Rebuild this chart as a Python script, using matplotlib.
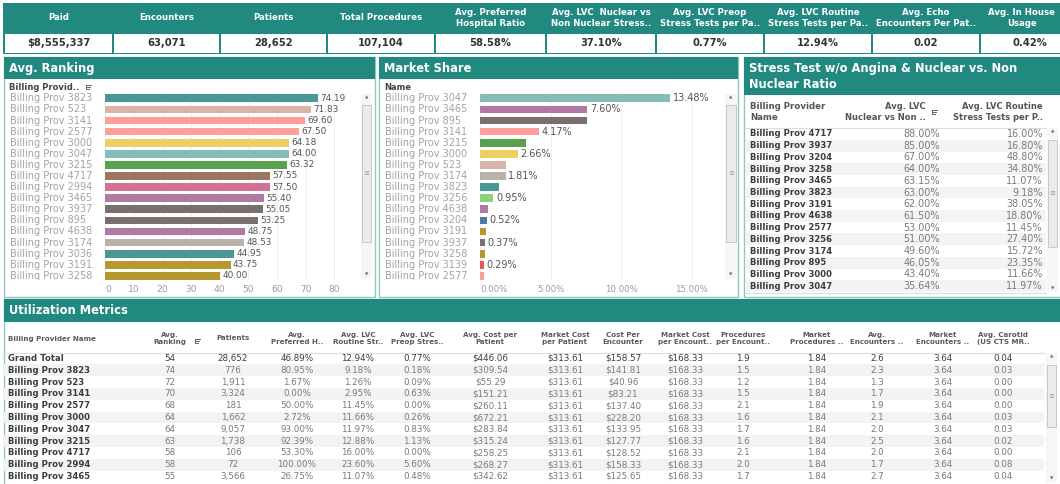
import matplotlib.pyplot as plt
from matplotlib.patches import Rectangle
from matplotlib.ticker import FixedLocator
from matplotlib.transforms import Bbox, TransformedBbox, blended_transform_factory, offset_copy

plt.rcParams['font.family'] = ['DejaVu Sans']

# ---- data ----
kpi_labels = ["Paid", "Encounters", "Patients", "Total Procedures",
              "Avg. Preferred\nHospital Ratio", "Avg. LVC  Nuclear vs\nNon Nuclear Stress..",
              "Avg. LVC Preop\nStress Tests per Pa..", "Avg. LVC Routine\nStress Tests per Pa..",
              "Avg. Echo\nEncounters Per Pat..", "Avg. In House\nUsage"]
kpi_values = ["$8,555,337", "63,071", "28,652", "107,104", "58.58%",
              "37.10%", "0.77%", "12.94%", "0.02", "0.42%"]

rank_names = ["Billing Prov 3823", "Billing Prov 523", "Billing Prov 3141", "Billing Prov 2577",
              "Billing Prov 3000", "Billing Prov 3047", "Billing Prov 3215", "Billing Prov 4717",
              "Billing Prov 2994", "Billing Prov 3465", "Billing Prov 3937", "Billing Prov 895",
              "Billing Prov 4638", "Billing Prov 3174", "Billing Prov 3036", "Billing Prov 3191",
              "Billing Prov 3258"]
rank_vals = [74.19, 71.83, 69.60, 67.50, 64.18, 64.00, 63.32, 57.55, 57.50, 55.40,
             55.05, 53.25, 48.75, 48.53, 44.95, 43.75, 40.00]
rank_colors = ['#499894', '#d7b5a6', '#ff9d9a', '#ff9d9a', '#f1ce63', '#86bcb6', '#59a14f',
               '#9d7660', '#d37295', '#b07aa1', '#79706e', '#79706e', '#b07aa1', '#bab0ac',
               '#499894', '#b6992d', '#b6992d']

share_names = ["Billing Prov 3047", "Billing Prov 3465", "Billing Prov 895", "Billing Prov 3141",
               "Billing Prov 3215", "Billing Prov 3000", "Billing Prov 523", "Billing Prov 3174",
               "Billing Prov 3823", "Billing Prov 3256", "Billing Prov 4638", "Billing Prov 3204",
               "Billing Prov 3191", "Billing Prov 3937", "Billing Prov 3258", "Billing Prov 3139",
               "Billing Prov 2577"]
share_vals = [13.48, 7.60, 7.60, 4.17, 3.25, 2.66, 1.86, 1.81, 1.36, 0.95, 0.59, 0.52,
              0.42, 0.37, 0.37, 0.29, 0.26]
share_shown = [1, 1, 0, 1, 0, 1, 0, 1, 0, 1, 0, 1, 0, 1, 0, 1, 0]
share_colors = ['#86bcb6', '#b07aa1', '#79706e', '#ff9d9a', '#59a14f', '#f1ce63', '#d7b5a6',
                '#bab0ac', '#499894', '#8cd17d', '#b07aa1', '#4e79a7', '#b6992d', '#79706e',
                '#b6992d', '#e15759', '#ff9d9a']

stress_names = ["Billing Prov 4717", "Billing Prov 3937", "Billing Prov 3204", "Billing Prov 3258",
                "Billing Prov 3465", "Billing Prov 3823", "Billing Prov 3191", "Billing Prov 4638",
                "Billing Prov 2577", "Billing Prov 3256", "Billing Prov 3174", "Billing Prov 895",
                "Billing Prov 3000", "Billing Prov 3047"]
stress_nuclear = [88.00, 85.00, 67.00, 64.00, 63.15, 63.00, 62.00, 61.50, 53.00, 51.00,
                  49.60, 46.05, 43.40, 35.64]
stress_routine = [16.00, 16.80, 48.80, 34.80, 11.07, 9.18, 38.05, 18.80, 11.45, 27.40,
                  15.72, 23.35, 11.66, 11.97]

util_headers = ["Billing Provider Name", "Avg.\nRanking", "Patients", "Avg.\nPreferred H..",
                "Avg. LVC\nRoutine Str..", "Avg. LVC\nPreop Stres..", "Avg. Cost per\nPatient",
                "Market Cost\nper Patient", "Cost Per\nEncounter", "Market Cost\nper Encount..",
                "Procedures\nper Encount..", "Market\nProcedures ..", "Avg.\nEncounters ..",
                "Market\nEncounters ..", "Avg. Carotid\n(US CTS MR.."]
util_names = ["Grand Total", "Billing Prov 3823", "Billing Prov 523", "Billing Prov 3141",
              "Billing Prov 2577", "Billing Prov 3000", "Billing Prov 3047", "Billing Prov 3215",
              "Billing Prov 4717", "Billing Prov 2994", "Billing Prov 3465"]
util_rank = [54, 74, 72, 70, 68, 64, 64, 63, 58, 58, 55]
util_patients = [28652, 776, 1911, 3324, 181, 1662, 9057, 1738, 106, 72, 3566]
util_pref = [46.89, 80.95, 1.67, 0.00, 50.00, 2.72, 93.00, 92.39, 53.30, 100.00, 26.75]
util_routine = [12.94, 9.18, 1.26, 2.95, 11.45, 11.66, 11.97, 12.88, 16.00, 23.60, 11.07]
util_preop = [0.77, 0.18, 0.09, 0.63, 0.00, 0.26, 0.83, 1.13, 0.00, 5.60, 0.48]
util_cost_pat = [446.06, 309.54, 55.29, 151.21, 260.11, 672.21, 283.84, 315.24, 258.25, 268.27, 342.62]
util_mkt_cost_pat = [313.61] * 11
util_cost_enc = [158.57, 141.81, 40.96, 83.21, 137.40, 228.20, 133.95, 127.77, 128.52, 158.33, 125.65]
util_mkt_cost_enc = [168.33] * 11
util_proc_enc = [1.9, 1.5, 1.2, 1.5, 2.1, 1.6, 1.7, 1.6, 2.1, 2.0, 1.7]
util_mkt_proc = [1.84] * 11
util_enc = [2.6, 2.3, 1.3, 1.7, 1.9, 2.1, 2.0, 2.5, 2.0, 1.7, 2.7]
util_mkt_enc = [3.64] * 11
util_carotid = [0.04, 0.03, 0.00, 0.00, 0.00, 0.03, 0.03, 0.02, 0.00, 0.08, 0.04]

# ---- layout helpers (pixel coords, y down) ----
W, H = 1060, 484
TEAL = '#21897f'
EDGE = '#8fc7c1'

fig = plt.figure(figsize=(W / 100, H / 100), dpi=100)
bg = fig.add_axes([0, 0, 1, 1])
bg.set_xlim(0, W)
bg.set_ylim(H, 0)
bg.axis('off')


def box(x0, y0, x1, y1, **kw):
    bg.add_patch(Rectangle((x0, y0), x1 - x0, y1 - y0, **kw))


def clip_px(x0, y0, x1, y1):
    return TransformedBbox(Bbox.from_extents(x0 / 100, (H - y1) / 100, x1 / 100, (H - y0) / 100),
                           fig.dpi_scale_trans)


def px_axes(x0, y0, x1, y1):
    return fig.add_axes([x0 / W, 1 - y1 / H, (x1 - x0) / W, (y1 - y0) / H])


def sort_icon(x, y):
    bg.plot([x, x], [y - 2.4, y + 2.4], color='#666666', lw=0.7)
    for k, L in enumerate([5, 3.8, 2.6]):
        bg.plot([x, x + L], [y - 2.2 + k * 2.2] * 2, color='#666666', lw=0.7)


def scrollbar(x0, x1, y0, y1, t0, t1):
    box(x0, y0, x1, y1, fc='#f6f6f6', ec='none')
    box(x0 + 1, t0, x1 - 1, t1, fc='#ebebeb', ec='#c2c2c2', lw=0.6)
    cx = (x0 + x1) / 2
    bg.text(cx, (t0 + t1) / 2, '≡', fontsize=5, color='#9a9a9a', ha='center', va='center')
    bg.text(cx, y0 + 3.5, '▲', fontsize=3.2, color='#666666', ha='center', va='center')
    bg.text(cx, y1 - 4, '▼', fontsize=3.2, color='#666666', ha='center', va='center')


def panel(x0, y0, x1, y1, hb, title):
    box(x0, y0, x1, y1, fc='white', ec=EDGE, lw=1)
    box(x0, y0, x1, hb, fc=TEAL, ec='none')
    bg.text(x0 + 5, (y0 + hb) / 2 + 0.5, title, color='white', fontsize=8.3, fontweight='bold',
            ha='left', va='center', linespacing=1.3)


# ---- KPI strip ----
kpi_edges = [4, 113, 220, 327, 435, 546, 656, 764, 872, 980, 1080]
box(3, 3, W, 54, fc=TEAL, ec='none')
for i, (lab, val) in enumerate(zip(kpi_labels, kpi_values)):
    x0, x1 = kpi_edges[i], kpi_edges[i + 1]
    cx = (x0 + x1) / 2
    bg.text(min(cx, 1022), 18, lab, color='white', fontsize=6.2, fontweight='bold', ha='center',
            va='center', linespacing=1.2)
    box(x0 + 1.2, 34, x1 - 1.2, 52.5, fc='white', ec='none')
    bg.text(cx, 43.5, val, color='#333333', fontsize=7.2, fontweight='bold', ha='center', va='center')


# ---- bar chart panels ----
ROW0, ROWH = 98.3, 11.1
BAR_TOP, BAR_BOT = 92, 280


def bar_panel(ax_x1, zero_px, px_per_unit, names, vals, colors, labels, val_size, lab_x,
              ticks, tick_fmt, tick_size, clip_x0, clip_x1):
    ax = px_axes(zero_px, BAR_TOP, ax_x1, BAR_BOT)
    n = len(vals)
    ax.barh(range(n), vals, height=0.7, color=colors, zorder=2)
    ax.set_ylim((BAR_BOT - ROW0) / ROWH, (BAR_TOP - ROW0) / ROWH)
    ax.set_xlim(0, (ax_x1 - zero_px) / px_per_unit)
    ax.set_yticks([])
    ax.xaxis.set_major_locator(FixedLocator(ticks))
    ax.set_xticklabels([tick_fmt(t) for t in ticks])
    ax.tick_params(axis='x', length=0, pad=3.5, labelsize=tick_size, labelcolor='#9c9c9c')
    ax.get_xticklabels()[0].set_ha('left')
    ax.grid(axis='x', color='#efefef', lw=0.7, zorder=0)
    ax.set_axisbelow(True)
    ax.patch.set_alpha(0)
    for s in ax.spines.values():
        s.set_visible(False)
    off = offset_copy(ax.transData, fig=fig, x=2.5, y=0, units='dots')
    for i, v in enumerate(vals):
        if labels[i]:
            ax.text(v, i, labels[i], transform=off, fontsize=val_size, color='#555555',
                    ha='left', va='center', clip_on=True)
    trans = blended_transform_factory(bg.transData, ax.transData)
    cb = clip_px(clip_x0, BAR_TOP, clip_x1, BAR_BOT)
    for i, nm in enumerate(names):
        t = bg.text(lab_x, i, nm, transform=trans, fontsize=7, color='#a3a3a3',
                    ha='left', va='center')
        t.set_clip_box(cb)
        t.set_clip_on(True)
    return ax


panel(4, 57, 375, 297, 79, "Avg. Ranking")
bg.text(9, 87, "Billing Provid..", fontsize=6, fontweight='bold', color='#444444', ha='left', va='center')
sort_icon(86, 87)
bar_panel(355, 105.3, 2.8625, rank_names, rank_vals, rank_colors,
          [f"{v:.2f}" for v in rank_vals], 6.4, 10, list(range(0, 81, 10)), lambda t: f"{t:g}",
          6.6, 4, 375)
scrollbar(361, 372, 94, 279, 105, 242)

panel(379, 57, 738, 297, 79, "Market Share")
bg.text(384, 87, "Name", fontsize=6, fontweight='bold', color='#444444', ha='left', va='center')
bar_panel(720, 480, 14.12, share_names, share_vals, share_colors,
          [f"{v:.2f}%" if s else "" for v, s in zip(share_vals, share_shown)], 7, 385,
          [0, 5, 10, 15], lambda t: f"{t:.2f}%", 6.2, 379, 738)
scrollbar(725, 737, 94, 279, 105, 242)


# ---- stress test table ----
panel(744, 57, W + 2, 297, 95, "Stress Test w/o Angina & Nuclear vs. Non\nNuclear Ratio")
bg.text(750, 112, "Billing Provider\nName", fontsize=6.2, fontweight='bold', color='#555555',
        ha='left', va='center', linespacing=1.2)
bg.text(926, 112, "Avg. LVC\nNuclear vs Non ..", fontsize=6, fontweight='bold', color='#555555',
        ha='right', va='center', multialignment='right', linespacing=1.2)
sort_icon(932, 112)
bg.text(1043, 112, "Avg. LVC Routine\nStress Tests per P..", fontsize=6, fontweight='bold',
        color='#555555', ha='right', va='center', multialignment='right', linespacing=1.2)
bg.plot([745, 1046], [127.5, 127.5], color='#dddddd', lw=0.8)
SROW0, SROWH = 134, 11.7
for i, nm in enumerate(stress_names):
    y = SROW0 + i * SROWH
    if i % 2 == 1:
        box(745, y - SROWH / 2, 1046, y + SROWH / 2, fc='#f3f3f3', ec='none')
    bg.text(750, y, nm, fontsize=6.1, fontweight='bold', color='#3c3c3c', ha='left', va='center')
    bg.text(940, y, f"{stress_nuclear[i]:.2f}%", fontsize=6.9, color='#7a7a7a', ha='right', va='center')
    bg.text(1043, y, f"{stress_routine[i]:.2f}%", fontsize=6.9, color='#7a7a7a', ha='right', va='center')
bg.plot([745, 1046], [293, 293], color='#dddddd', lw=0.8)
scrollbar(1047, 1058, 128, 292, 140, 247)


# ---- utilization metrics table ----
panel(4, 299, W + 2, H + 2, 322, "Utilization Metrics")
col_x = [8, 170, 233, 297, 358, 417, 490, 565, 623, 685, 743, 817, 877, 943, 1003]
cols = [
    [f"{v}" for v in util_rank],
    [f"{v:,}" for v in util_patients],
    [f"{v:.2f}%" for v in util_pref],
    [f"{v:.2f}%" for v in util_routine],
    [f"{v:.2f}%" for v in util_preop],
    [f"${v:,.2f}" for v in util_cost_pat],
    [f"${v:,.2f}" for v in util_mkt_cost_pat],
    [f"${v:,.2f}" for v in util_cost_enc],
    [f"${v:,.2f}" for v in util_mkt_cost_enc],
    [f"{v:.1f}" for v in util_proc_enc],
    [f"{v:.2f}" for v in util_mkt_proc],
    [f"{v:.1f}" for v in util_enc],
    [f"{v:.2f}" for v in util_mkt_enc],
    [f"{v:.2f}" for v in util_carotid],
]
for j, hd in enumerate(util_headers):
    bg.text(col_x[j], 338.5, hd, fontsize=5.1, fontweight='bold', color='#5a5a5a',
            ha='left' if j == 0 else 'center', va='center', linespacing=1.25)
sort_icon(195, 341)
bg.plot([4, 1044], [352.5, 352.5], color='#dddddd', lw=0.8)
UROW0, UROWH = 358.5, 11.8
for i, nm in enumerate(util_names):
    y = UROW0 + i * UROWH
    if i % 2 == 1:
        box(4, y - UROWH / 2, 1044, y + UROWH / 2, fc='#f3f3f3', ec='none')
    bg.text(8, y, nm, fontsize=6.1, fontweight='bold', color='#3c3c3c', ha='left', va='center')
    vc = '#3c3c3c' if i == 0 else '#7a7a7a'
    for j, col in enumerate(cols):
        bg.text(col_x[j + 1], y, col[i], fontsize=6.3, color=vc, ha='center', va='center')
scrollbar(1046, 1057, 353, 483, 365, 427)

fig.savefig('out.png', dpi=100)
